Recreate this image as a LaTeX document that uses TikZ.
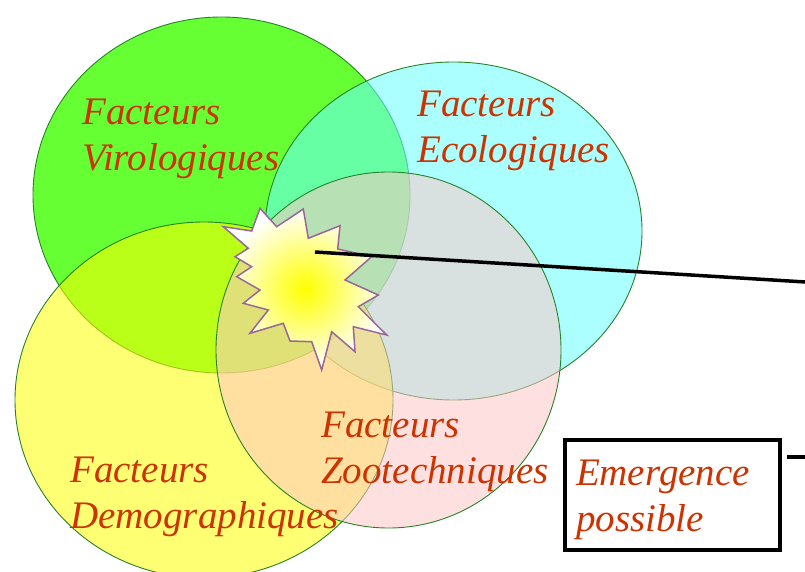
\documentclass[tikz,border=0pt]{standalone}
\usepackage{fontspec}
\setmainfont{Liberation Serif}
\usetikzlibrary{shapes.geometric}
\definecolor{vgreen}{RGB}{102,255,51}
\definecolor{vcyan}{RGB}{102,255,255}
\definecolor{vyellow}{RGB}{255,255,0}
\definecolor{vpink}{RGB}{255,198,198}
\definecolor{edgegreen}{RGB}{40,130,40}
\definecolor{lblred}{RGB}{204,51,0}
\definecolor{staredge}{RGB}{153,102,153}
\begin{document}
\begin{tikzpicture}[x=1pt,y=-1pt,
  ell/.style={ellipse, draw=edgegreen, line width=0.9pt, inner sep=0pt},
  lbl/.style={text=lblred, font=\fontsize{39}{46}\selectfont\itshape, align=left, inner sep=0pt, anchor=base west},
  burststyle/.style={draw=staredge, line width=1.5pt, inner color=yellow, outer color=white},
  ray/.style={draw=black, line width=3.5pt}]
\useasboundingbox (0,0) rectangle (805,572);
\clip (0,0) rectangle (805,572);
% ellipses
\node[ell, fill=vgreen, minimum width=377pt, minimum height=356pt] (evir) at (221.5,195) {};
\node[ell, fill=vcyan, fill opacity=0.55, minimum width=377pt, minimum height=338pt] (eeco) at (453.5,231) {};
\node[ell, fill=vyellow, fill opacity=0.55, minimum width=378pt, minimum height=356pt] (edemo) at (204,400) {};
\node[ell, fill=vpink, fill opacity=0.54, minimum width=345pt, minimum height=356pt] (ezoo) at (388.5,350) {};
% burst
\path[burststyle] (223.3,226.7) -- (251.7,231) -- (260,208.3) -- (276.7,226.7) -- (303.3,209)
  -- (308.3,238.3) -- (340,225.7) -- (337.7,249) -- (371.7,256.7) -- (345,280)
  -- (378.3,295) -- (358.3,306.7) -- (386.7,335) -- (353.3,326.7) -- (355,351.7)
  -- (331.7,331.7) -- (321.7,370) -- (311.7,341.7) -- (290,341) -- (283.3,323.3)
  -- (250,333.3) -- (268.3,310) -- (243.3,303.3) -- (260,290) -- (236.7,276.7)
  -- (251.7,266.7) -- (235,256.7) -- (248.3,248.3) -- cycle;
\coordinate (burst) at (315,252);
\coordinate (rayend) at (812,282.4);
\draw[ray] (burst) -- (rayend);
% labels (anchor = baseline of last line)
\node[lbl] (vir) at (82,171) {Facteurs\\Virologiques};
\node[lbl] (eco) at (417,163) {Facteurs\\Ecologiques};
\node[lbl] (zoo) at (321,483) {Facteurs\\Zootechniques};
\node[lbl] (demo) at (70,528) {Facteurs\\Demographiques};
% box
\node[draw=black, line width=3.5pt, outer sep=0pt, anchor=north west, text width=193pt,
  inner xsep=11pt, inner ysep=0pt, minimum height=110pt, text height=35pt, align=left, text=lblred,
  font=\fontsize{39}{46}\selectfont\itshape] (emerg) at (565,440) {Emergence\\possible};
\coordinate (tail) at (812,457);
\draw[ray] ([xshift=7pt,yshift=-17pt]emerg.north east) -- (tail);
\end{tikzpicture}
\end{document}
